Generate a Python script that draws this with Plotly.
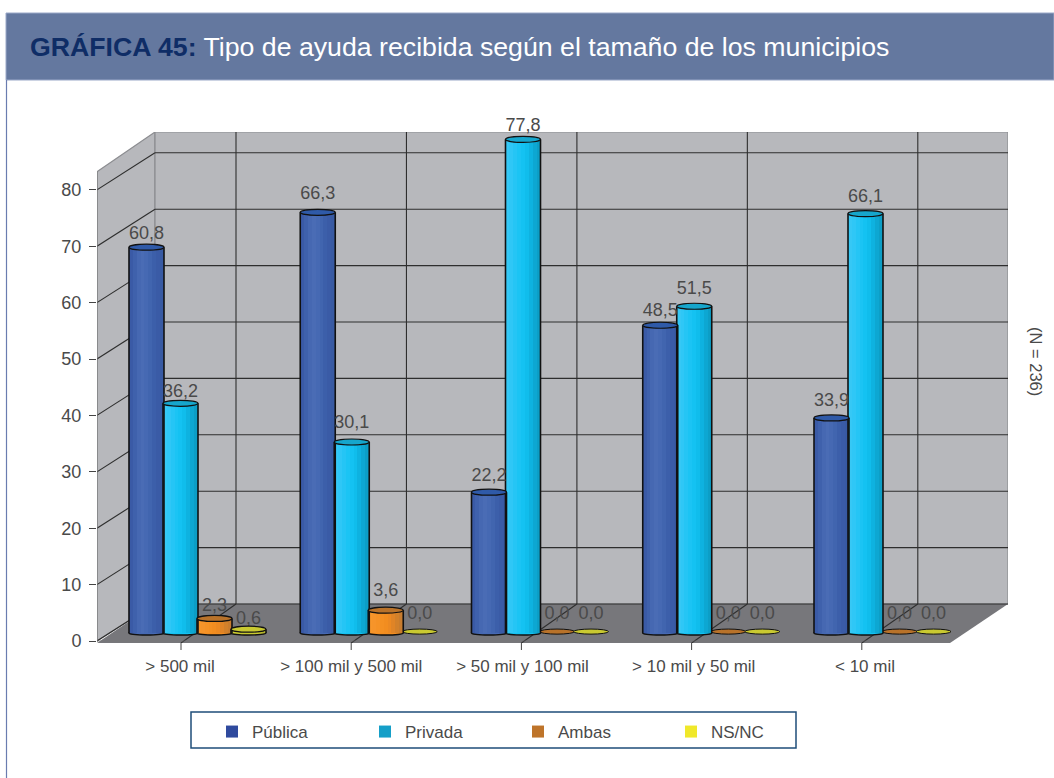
import plotly.graph_objects as go

# ---------- data ----------
categories = ["> 500 mil", "> 100 mil y 500 mil", "> 50 mil y 100 mil", "> 10 mil y 50 mil", "< 10 mil"]
publica = [60.8, 66.3, 22.2, 48.5, 33.9]
privada = [36.2, 30.1, 77.8, 51.5, 66.1]
ambas = [2.3, 3.6, 0.0, 0.0, 0.0]
nsnc = [0.6, 0.0, 0.0, 0.0, 0.0]
y_ticks = [0, 10, 20, 30, 40, 50, 60, 70, 80]

# ---------- style ----------
series = [
    ("Pública", publica, "#2F4A9E", "#2F5AA8", ["#3A5AA6", "#3F61AC", "#4668B2", "#4A6CB5", "#4669B3", "#4165AF", "#3C5FAA", "#3A5BA6", "#385AA3"]),
    ("Privada", privada, "#159FC8", "#16A6CC", ["#36C8F5", "#2FC7F6", "#25C5F5", "#1BC4F4", "#14C2F2", "#10BDEC", "#0EB2E0", "#0DA7D2", "#0C9EC6"]),
    ("Ambas", ambas, "#BE742A", "#B8722A", ["#F7962A", "#F6942A", "#F59226", "#F49022", "#F28D20", "#EC8922", "#E08426", "#D2802A", "#C87C2E"]),
    ("NS/NC", nsnc, "#F0E82A", "#C9C931", ["#D2D232", "#D2D232", "#CFCF30", "#CDCD30", "#CACA30", "#C6C62E", "#C0C02E", "#BABA2C", "#B4B42C"]),
]
# fine vertical nudges of the value labels, in pixels, per series
label_nudge = [[-2, 3, 1, -1, 2], [-4, 4, -2, 2, 1], [-3, 4, 2, 2, 2], [-5, 2, 2, 2, 2]]

L, R, T, B = 97, 1008, 132, 643          # plot area in page pixels
W, H = 1054, 778
CAT_PX = 171.25
UNIT_PX = 5.64
ZERO_PX = 641
CAT0_PX = 180
x_range = [(L - CAT0_PX) / CAT_PX, (R - CAT0_PX) / CAT_PX]
y_range = [(ZERO_PX - B) / UNIT_PX, (ZERO_PX - T) / UNIT_PX]
DX = 58 / CAT_PX                         # depth offset of the back wall
DY = 37 / UNIT_PX
HEIGHT_SCALE = 1.125                     # bars stand on the mid-depth plane
BASE = 8 / UNIT_PX
BAR_W = 35 / CAT_PX
STEP = 34 / CAT_PX
START = -33.5 / CAT_PX
ELL_H = 6 / UNIT_PX
ELL_B = 4 / UNIT_PX
TEXT = "#4A4A4A"
FONT = "Liberation Sans"


def px(x):
    return (x - L) / (R - L)


def py(y):
    return (B - y) / (B - T)


def dx(p):
    return (p - CAT0_PX) / CAT_PX


shapes = []
fl, fr = x_range[0], dx(950)
bl, br = fl + DX, x_range[1]
wall_front, wall_back = 83.2, y_range[1]

# page furniture
shapes.append(dict(type="rect", xref="paper", yref="paper", x0=px(6), x1=px(1054), y0=py(13), y1=py(80),
                   fillcolor="#64789F", line=dict(color="#9AA8C8", width=1), layer="below"))
shapes.append(dict(type="line", xref="paper", yref="paper", x0=px(6.5), x1=px(6.5), y0=py(80), y1=py(778),
                   line=dict(color="#6A7CB0", width=1.2), layer="below"))
shapes.append(dict(type="rect", xref="paper", yref="paper", x0=px(191), x1=px(796), y0=py(712), y1=py(748),
                   fillcolor="white", line=dict(color="#1F4E79", width=1.5), layer="below"))

# walls and floor
shapes.append(dict(type="path", path=f"M {fl} 0 L {fl} {wall_front} L {bl} {wall_back} L {bl} {DY} Z",
                   fillcolor="#B7B8BC", line=dict(color="#8C8D91", width=1.2), layer="below"))
shapes.append(dict(type="rect", x0=bl, x1=br, y0=DY, y1=wall_back,
                   fillcolor="#B7B8BC", line=dict(color="#8C8D91", width=1.2), layer="below"))
shapes.append(dict(type="path", path=f"M {fl} {y_range[0]} L {fr} {y_range[0]} L {br} {DY} L {bl} {DY} Z",
                   fillcolor="#77777B", line=dict(width=0), layer="below"))

grid = dict(color="#2E2E2E", width=1.1)
for t in y_ticks:
    shapes.append(dict(type="line", x0=fl, x1=bl, y0=t, y1=t + DY, line=grid, layer="below"))
    shapes.append(dict(type="line", x0=bl, x1=br, y0=t + DY, y1=t + DY, line=grid, layer="below"))
for i in range(len(categories)):
    front = dx(181 + 170.2 * i)
    back = dx(236 + 170.45 * i)
    shapes.append(dict(type="line", x0=front, x1=back, y0=y_range[0], y1=DY, line=grid, layer="below"))
    shapes.append(dict(type="line", x0=back, x1=back, y0=DY, y1=wall_back, line=grid, layer="below"))
    shapes.append(dict(type="line", x0=front, x1=front, yref="paper", y0=py(643), y1=py(650),
                       line=dict(color="#444", width=1), layer="below"))
shapes.append(dict(type="line", x0=fl, x1=fl, y0=0, y1=wall_front, line=dict(color="#777", width=1), layer="below"))
shapes.append(dict(type="line", x0=fl, x1=fr, y0=0, y1=0, line=dict(color="#777", width=0.6), layer="below"))

fig = go.Figure()
N = 9
label_x, label_y, label_t = [], [], []
for j, (name, values, swatch, top_col, strips) in enumerate(series):
    xs, hs, cs = [], [], []
    ex, ey = [], []
    for i, v in enumerate(values):
        cx = i + START + j * STEP
        h = v * HEIGHT_SCALE
        top = BASE + h
        label_x.append(cx)
        label_y.append(max(top, BASE + 0.3) + 1.0 + label_nudge[j][i] / UNIT_PX)
        label_t.append(f"{v:.1f}".replace(".", ","))
        if v == 0:
            shapes.append(dict(type="circle", x0=cx - BAR_W / 2, x1=cx + BAR_W / 2,
                               y0=BASE - 0.2, y1=BASE + 0.7,
                               fillcolor=top_col, line=dict(color="#111", width=1), layer="below"))
            continue
        for k in range(N):
            xs.append(cx - BAR_W / 2 + (k + 0.5) * BAR_W / N)
            hs.append(h)
            cs.append(strips[k])
        for side in (-1, 1):
            ex += [cx + side * BAR_W / 2] * 2 + [None]
            ey += [BASE, top, None]
        shapes.append(dict(type="circle", x0=cx - BAR_W / 2, x1=cx + BAR_W / 2,
                           y0=BASE - ELL_B / 2, y1=BASE + ELL_B / 2,
                           fillcolor=strips[4], line=dict(color="#111", width=1.5), layer="below"))
        shapes.append(dict(type="circle", x0=cx - BAR_W / 2, x1=cx + BAR_W / 2,
                           y0=top - ELL_H / 2, y1=top + ELL_H / 2,
                           fillcolor=top_col, line=dict(color="#111", width=1.2), layer="above"))
    if xs:
        fig.add_trace(go.Bar(x=xs, y=hs, base=BASE, width=BAR_W / N * 1.05, marker=dict(color=cs, line=dict(width=0)),
                             showlegend=False, hoverinfo="skip"))
        fig.add_trace(go.Scatter(x=ex, y=ey, mode="lines", line=dict(color="#111", width=1.6),
                                 showlegend=False, hoverinfo="skip"))
    fig.add_trace(go.Scatter(x=[None], y=[None], mode="markers", name=name,
                             marker=dict(symbol="square", size=12, color=swatch)))

fig.add_trace(go.Scatter(x=label_x, y=label_y, text=label_t, mode="text", textposition="top center",
                         textfont=dict(family=FONT, size=18, color=TEXT), showlegend=False,
                         hoverinfo="skip", cliponaxis=False))

annotations = [
    dict(xref="paper", yref="paper", x=px(28), y=py(47), xanchor="left", yanchor="middle", showarrow=False,
         text='<b><span style="color:#0F2D66">GRÁFICA 45:</span></b> Tipo de ayuda recibida según el tamaño de los municipios',
         font=dict(family=FONT, size=26.7, color="white")),
    dict(xref="paper", yref="paper", x=px(1036), y=py(361), xanchor="center", yanchor="middle", showarrow=False,
         text="(N = 236)", textangle=90, font=dict(family=FONT, size=16.5, color=TEXT)),
]

fig.update_layout(
    width=W, height=H, autosize=False,
    margin=dict(l=L, r=W - R, t=T, b=H - B, pad=0),
    paper_bgcolor="white", plot_bgcolor="white",
    barmode="overlay", bargap=0,
    shapes=shapes, annotations=annotations,
    font=dict(family=FONT, color=TEXT),
    legend=dict(orientation="h", x=px(212), y=py(714), xanchor="left", yanchor="top",
                entrywidth=108, entrywidthmode="pixels", font=dict(family=FONT, size=17, color=TEXT),
                bgcolor="rgba(0,0,0,0)", itemclick=False, itemdoubleclick=False),
    xaxis=dict(range=x_range, tickmode="array", tickvals=list(range(len(categories))), ticktext=categories,
               showgrid=False, zeroline=False, showline=False, ticks="", ticklabelstandoff=11,
               tickfont=dict(family=FONT, size=17, color=TEXT)),
    yaxis=dict(range=y_range, tickmode="array", tickvals=y_ticks, showgrid=False, zeroline=False, showline=False,
               ticks="outside", ticklen=7, tickcolor="#444", ticklabelstandoff=4,
               tickfont=dict(family=FONT, size=18, color=TEXT)),
)

fig.write_html("out.html", config={"displayModeBar": False}, post_script="document.body.style.margin='0';")
